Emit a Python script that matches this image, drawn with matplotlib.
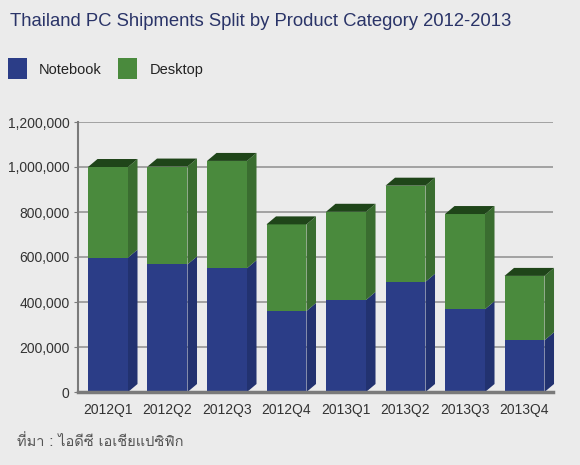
import matplotlib
matplotlib.use("Agg")
import matplotlib.pyplot as plt
from matplotlib import font_manager
from matplotlib.ft2font import FT2Font
from matplotlib.patches import Rectangle, Polygon

# data
quarters = ["2012Q1", "2012Q2", "2012Q3", "2012Q4", "2013Q1", "2013Q2", "2013Q3", "2013Q4"]
notebook = [597000, 567000, 550000, 360000, 409000, 490000, 368000, 230000]
desktop = [403000, 435000, 477000, 385000, 392000, 427000, 423000, 286000]
yticks = [0, 200000, 400000, 600000, 800000, 1000000, 1200000]

title = "Thailand PC Shipments Split by Product Category 2012-2013"
source = "ที่มา : ไอดีซี เอเชียแปซิฟิก"

# colours: front, side, top
blue = ("#2b3d87", "#223270", "#1b2858")
green = ("#4a8a3d", "#3a6d30", "#1f4519")
bg = "#ebebeb"

plt.rcParams["font.family"] = ["Liberation Sans", "DejaVu Sans"]

# find something that can draw Thai
thai_font = None
for f in font_manager.fontManager.ttflist:
    try:
        cm = FT2Font(f.fname).get_charmap()
    except Exception:
        continue
    if 0x0E17 in cm and 0x0E35 in cm:
        thai_font = f.name
        break
fams = ["DejaVu Sans"]
if thai_font:
    fams = [thai_font, "DejaVu Sans"]

fig = plt.figure(figsize=(5.8, 4.65), dpi=100, facecolor=bg)
ax = fig.add_axes([78 / 580, 1 - 392 / 465, 475 / 580, 270 / 465])
ax.set_facecolor(bg)

ax.set_xlim(-0.504, 7.479)
ax.set_ylim(0, 1200000)

w = 0.672
dx = 0.16
dy = 35500

for i in range(len(quarters)):
    x0 = i - w / 2
    x1 = i + w / 2
    bottom = 0
    segs = [(notebook[i], blue), (desktop[i], green)]
    for k, (v, col) in enumerate(segs):
        top = bottom + v
        ax.add_patch(Polygon([(x1, bottom), (x1 + dx, bottom + dy), (x1 + dx, top + dy), (x1, top)],
                             closed=True, facecolor=col[1], edgecolor="none", zorder=3, clip_on=False))
        ax.add_patch(Rectangle((x0, bottom), w, v, facecolor=col[0], edgecolor="none", zorder=4))
        if k == len(segs) - 1:
            ax.add_patch(Polygon([(x0, top), (x0 + dx, top + dy), (x1 + dx, top + dy), (x1, top)],
                                 closed=True, facecolor=col[2], edgecolor="none", zorder=4, clip_on=False))
        bottom = top

for y in yticks[1:]:
    ax.axhline(y, color="#959595", lw=1.2, zorder=1)

for s in ["top", "right"]:
    ax.spines[s].set_visible(False)
ax.spines["left"].set_color("#7a7a7a")
ax.spines["left"].set_linewidth(1.5)
ax.spines["bottom"].set_color("#7a7a7a")
ax.spines["bottom"].set_linewidth(2.5)
ax.spines["bottom"].set_zorder(5)

ax.set_yticks(yticks)
ax.set_yticklabels(["{:,}".format(v) for v in yticks])
ax.set_xticks(range(len(quarters)))
ax.set_xticklabels(quarters)
ax.tick_params(axis="y", length=3, color="#7a7a7a", labelsize=10, labelcolor="#333333", pad=3)
ax.tick_params(axis="x", length=0, labelsize=10, labelcolor="#333333", pad=8)

fig.text(10 / 580, 1 - 22 / 465, title, fontsize=13.3, color="#2a3468", va="center", ha="left")

fig.add_artist(Rectangle((8 / 580, 1 - 79 / 465), 19 / 580, 21 / 465, transform=fig.transFigure,
                         facecolor=blue[0], edgecolor="none"))
fig.text(39 / 580, 1 - 70 / 465, "Notebook", fontsize=10.5, color="#222222", va="center")
fig.add_artist(Rectangle((118 / 580, 1 - 79 / 465), 19 / 580, 21 / 465, transform=fig.transFigure,
                         facecolor=green[0], edgecolor="none"))
fig.text(150 / 580, 1 - 70 / 465, "Desktop", fontsize=10.5, color="#222222", va="center")

fig.text(17 / 580, 1 - 442 / 465, source, fontsize=10.5, color="#555555", va="center", family=fams)

fig.savefig("out.png", dpi=100, facecolor=bg)
